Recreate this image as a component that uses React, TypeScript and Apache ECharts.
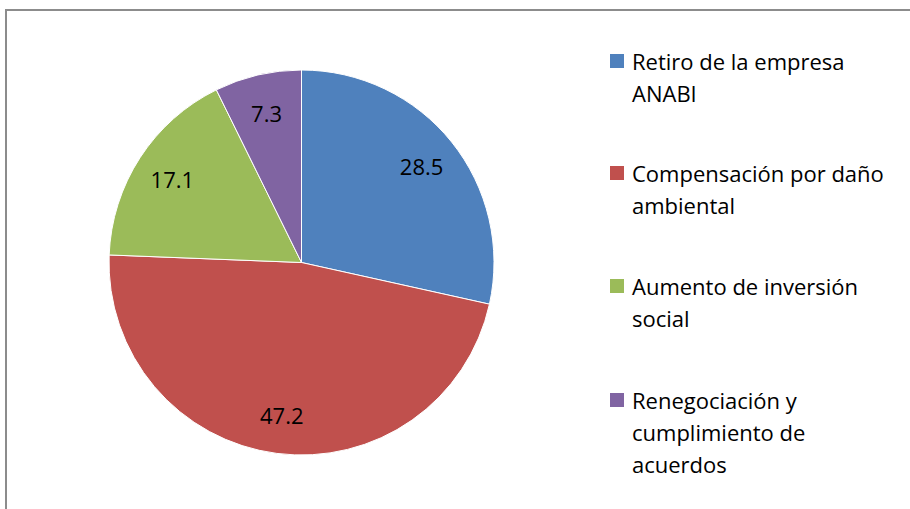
import React, { useEffect, useRef } from "react";
import * as echarts from "echarts";

const categories = [
  "Retiro de la empresa ANABI",
  "Compensación por daño ambiental",
  "Aumento de inversión social",
  "Renegociación y cumplimiento de acuerdos",
];
const legendLines = [
  ["Retiro de la empresa", "ANABI"],
  ["Compensación por daño", "ambiental"],
  ["Aumento de inversión", "social"],
  ["Renegociación y", "cumplimiento de", "acuerdos"],
];
const values = [28.5, 47.2, 17.1, 7.3];
const colors = ["#4F81BD", "#C0504D", "#9BBB59", "#8064A2"];

export default function App() {
  const ref = useRef<HTMLDivElement>(null);
  useEffect(() => {
    if (!ref.current) return;
    const chart = echarts.init(ref.current, null, { renderer: "svg" });
    const font = "'Open Sans', Lato, sans-serif";
    const data = categories.map((name, i) => ({
      name,
      value: values[i],
      itemStyle: { color: colors[i] },
    }));
    const legendTops = [61, 173, 286, 400];
    const legendGraphics: any[] = [];
    legendLines.forEach((lines, i) => {
      legendGraphics.push({
        type: "rect",
        shape: { x: 610, y: legendTops[i] - 7, width: 14, height: 14 },
        style: { fill: colors[i] },
      });
      legendGraphics.push({
        type: "text",
        x: 632,
        y: legendTops[i] - 16,
        style: {
          text: lines.join("\n"),
          font: `22px ${font}`,
          fill: "#000",
          lineHeight: 32,
          verticalAlign: "top",
          align: "left",
        },
      });
    });
    chart.setOption({
      animation: false,
      backgroundColor: "#fff",
      graphic: [
        {
          type: "rect",
          shape: { x: 6, y: 10, width: 1000, height: 600 },
          style: { fill: "none", stroke: "#8c8c8c", lineWidth: 2 },
        },
        ...legendGraphics,
      ],
      series: [
        {
          type: "pie",
          center: [301.5, 262.5],
          radius: [0, 192.5],
          startAngle: 90,
          clockwise: true,
          label: { show: false },
          labelLine: { show: false },
          itemStyle: { borderColor: "#fff", borderWidth: 1 },
          data,
          silent: true,
        },
        {
          type: "pie",
          center: [301.5, 262.5],
          radius: [108, 194],
          startAngle: 90,
          clockwise: true,
          silent: true,
          itemStyle: { color: "rgba(0,0,0,0)", borderWidth: 0 },
          label: {
            show: true,
            position: "inside",
            formatter: (p: any) => p.value.toFixed(1),
            fontFamily: font,
            fontSize: 22,
            color: "#000",
          },
          labelLine: { show: false },
          data: categories.map((name, i) => ({ name, value: values[i] })),
        },
      ],
    });
    return () => chart.dispose();
  }, []);
  return (
    <div
      ref={ref}
      style={{ position: "fixed", left: 0, top: 0, width: 910, height: 509 }}
    />
  );
}
